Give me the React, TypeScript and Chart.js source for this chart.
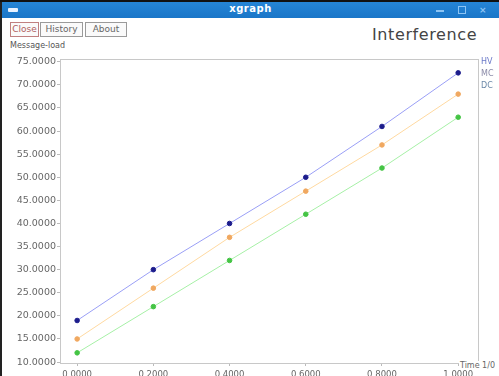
import React, { useEffect, useRef } from "react";
import { Chart, registerables } from "chart.js";

Chart.register(...registerables);

const xValues = [0, 0.2, 0.4, 0.6, 0.8, 1.0];
const hvValues = [19, 30, 40, 50, 61, 72.6];
const mcValues = [15, 26, 37, 47, 57, 68];
const dcValues = [12, 22, 32, 42, 52, 63];
const xTicks = [0, 0.2, 0.4, 0.6, 0.8, 1.0];
const yTicks = [10, 15, 20, 25, 30, 35, 40, 45, 50, 55, 60, 65, 70, 75];
const legendNames = ["HV", "MC", "DC"];

const frame = {
  id: "frame",
  afterDraw(chart: any) {
    const { ctx, chartArea } = chart;
    ctx.save();
    ctx.strokeStyle = "#c8c8c8";
    ctx.lineWidth = 1;
    ctx.strokeRect(chartArea.left + 0.5, chartArea.top + 0.5, chartArea.right - chartArea.left, chartArea.bottom - chartArea.top);
    ctx.restore();
  },
};

export default function App() {
  const ref = useRef<HTMLCanvasElement>(null);
  useEffect(() => {
    if (!ref.current) return;
    const mk = (label: string, data: number[], line: string, pt: string) => ({
      label,
      data: xValues.map((x, i) => ({ x, y: data[i] })),
      borderColor: line,
      backgroundColor: pt,
      pointBackgroundColor: pt,
      pointBorderColor: pt,
      pointRadius: 2.3,
      pointStyle: "circle",
      borderWidth: 1,
      tension: 0,
    });
    const chart = new Chart(ref.current, {
      type: "scatter",
      data: {
        datasets: [
          mk("HV", hvValues, "#9a9ff6", "#1c1c8c"),
          mk("MC", mcValues, "#ffd9a0", "#f0a860"),
          mk("DC", dcValues, "#a6f0a6", "#44c444"),
        ].map((d) => ({ ...d, showLine: true })) as any,
      },
      options: {
        animation: false,
        responsive: false,
        layout: { padding: { left: 0, right: 21, top: 59, bottom: 0 } },
        plugins: { legend: { display: false }, tooltip: { enabled: false } },
        scales: {
          x: {
            type: "linear",
            min: -0.045,
            max: 1.052,
            afterBuildTicks: (s: any) => { s.ticks = xTicks.map((v) => ({ value: v })); },
            afterFit: (s: any) => { s.height = 17; },
            grid: { display: true, drawOnChartArea: false, tickLength: 3, color: "#bbbbbb" },
            border: { display: false },
            ticks: {
              padding: 4,
              maxRotation: 0,
              autoSkip: false,
              color: "#666666",
              font: { family: "DejaVu Sans", size: 8.5 },
              callback: (v: any) => Number(v).toFixed(4),
            },
          },
          y: {
            type: "linear",
            min: 9.8,
            max: 75.6,
            afterBuildTicks: (s: any) => { s.ticks = yTicks.map((v) => ({ value: v })); },
            afterFit: (s: any) => { s.width = 60; },
            grid: { display: true, drawOnChartArea: false, tickLength: 3, color: "#bbbbbb" },
            border: { display: false },
            ticks: {
              padding: 1,
              autoSkip: false,
              color: "#666666",
              font: { family: "DejaVu Sans", size: 9.5 },
              callback: (v: any) => Number(v).toFixed(4),
            },
          },
        },
      } as any,
      plugins: [frame],
    });
    return () => chart.destroy();
  }, []);

  const btn: React.CSSProperties = {
    position: "absolute",
    top: 22,
    height: 13,
    border: "1px solid #9a9a9a",
    font: "9px 'DejaVu Sans'",
    color: "#666",
    lineHeight: "13px",
    textAlign: "center",
    background: "#fafafa",
  };
  const legColors = ["#6a78c8", "#8a8aa8", "#6a88a8"];

  return (
    <div style={{ position: "fixed", left: 0, top: 0, width: 499, height: 376, overflow: "hidden", background: "#ffffff", fontFamily: "DejaVu Sans" }}>
      <div style={{ position: "absolute", left: 0, top: 0, width: 499, height: 2, background: "#111" }} />
      <div style={{ position: "absolute", left: 0, top: 2, width: 2, height: 374, background: "#222" }} />
      <div style={{ position: "absolute", left: 2, top: 2, width: 497, height: 16, background: "linear-gradient(#2585d6, #1a76c8)" }}>
        <div style={{ position: "absolute", left: 6, top: 6, width: 10, height: 4, background: "#e8f2ff", borderRadius: 1 }} />
        <div style={{ position: "absolute", left: 0, width: 497, top: 1, textAlign: "center", color: "#ffffff", font: "bold 10px 'DejaVu Sans'", letterSpacing: 0.5 }}>xgraph</div>
        <div style={{ position: "absolute", left: 434, top: 8, width: 8, height: 2, background: "#8cc4f4" }} />
        <div style={{ position: "absolute", left: 456, top: 4, width: 6, height: 6, border: "1px solid #8cc4f4" }} />
        <div style={{ position: "absolute", left: 477, top: 3, color: "#8cc4f4", font: "bold 9px 'DejaVu Sans'" }}>×</div>
      </div>
      <div style={{ ...btn, left: 10, width: 27, borderColor: "#c08080", color: "#b06060" }}>Close</div>
      <div style={{ ...btn, left: 40, width: 41 }}>History</div>
      <div style={{ ...btn, left: 85, width: 40 }}>About</div>
      <div style={{ position: "absolute", left: 372, top: 25, font: "16px 'DejaVu Sans'", color: "#444", letterSpacing: 0.6 }}>Interference</div>
      <div style={{ position: "absolute", left: 10, top: 41, font: "8px 'DejaVu Sans'", color: "#555" }}>Message-load</div>
      <canvas ref={ref} width={499} height={380} style={{ position: "absolute", left: 0, top: 0, width: 499, height: 380 }} />
      {legendNames.map((n, i) => (
        <div key={n} style={{ position: "absolute", left: 481, top: 57 + i * 12, font: "8px 'DejaVu Sans'", color: legColors[i] }}>{n}</div>
      ))}
      <div style={{ position: "absolute", left: 459, top: 361, font: "8px 'DejaVu Sans'", color: "#666", background: "#fff", paddingLeft: 1 }}>Time 1/0</div>
    </div>
  );
}
